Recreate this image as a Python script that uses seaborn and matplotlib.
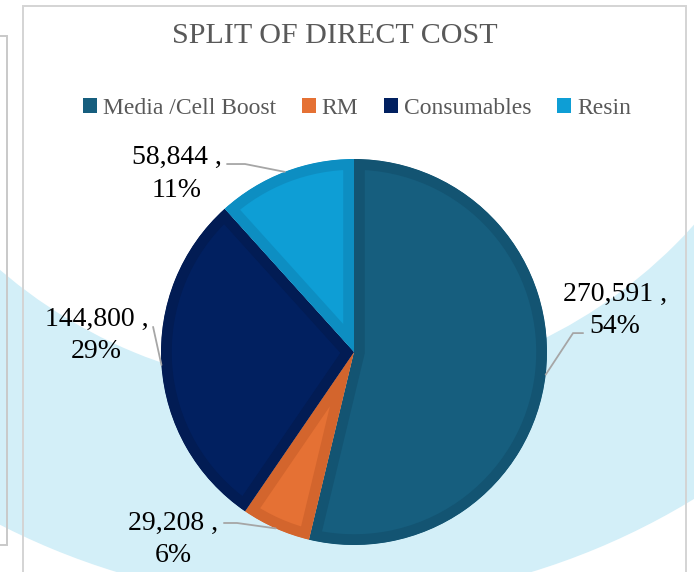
import numpy as np
import matplotlib
matplotlib.use("Agg")
import matplotlib.pyplot as plt
import matplotlib.patches as mpatches
import seaborn as sns

# ---- data -------------------------------------------------------------
categories = ["Media /Cell Boost", "RM", "Consumables", "Resin"]
costs = [270591, 29208, 144800, 58844]
pct_labels = [54, 6, 29, 11]

# ---- style --------------------------------------------------------------
sns.set_theme(style="white")
plt.rcParams["font.family"] = ["Liberation Serif", "DejaVu Serif"]

fill_colors = sns.color_palette(["#165E7E", "#E57134", "#012060", "#0E9ED5"])
edge_colors = sns.color_palette(["#135472", "#D3652D", "#021C54", "#0D8EC2"])
band_color = "#D3EFF8"
frame_color = "#D4D4D4"
text_gray = "#595959"
leader_gray = "#A6A6A6"

W, H = 694, 572
fig = plt.figure(figsize=(W / 100, H / 100), dpi=100)
fig.patch.set_facecolor("white")

# ---- background layer in pixel coordinates ------------------------------
bg = fig.add_axes([0, 0, 1, 1])
bg.set_xlim(0, W)
bg.set_ylim(H, 0)
bg.axis("off")
bg.add_patch(mpatches.Wedge((324, -107), 710, 0, 360, width=213,
                            facecolor=band_color, edgecolor="none"))
# chart frame
bg.plot([23, 23, 686, 686], [H + 5, 6, 6, H + 5], color=frame_color, lw=1.4,
        solid_joinstyle="miter")
# neighbouring box at the left edge
bg.plot([-5, 7, 7, -5], [36, 36, 545, 545], color="#C9C9C9", lw=1.4,
        solid_joinstyle="miter")

# ---- pie ----------------------------------------------------------------
cx, cy, r = 354, 352, 193
ax = fig.add_axes([(cx - r) / W, (H - cy - r) / H, 2 * r / W, 2 * r / H])
ax.patch.set_visible(False)
wedges, _ = ax.pie(costs, colors=fill_colors, startangle=90, counterclock=False,
                   wedgeprops=dict(linewidth=0))
# darker inset rim on every slice: a wide stroke clipped to the slice itself
for w, ec in zip(wedges, edge_colors):
    w.set_edgecolor(ec)
    w.set_linewidth(15.5)
    w.set_joinstyle("miter")
    w.set_clip_on(True)
    w.set_clip_path(w)
ax.set_xlim(-1, 1)
ax.set_ylim(-1, 1)
ax.set_aspect("equal")
ax.axis("off")

# label centres and leader elbows (in pie radius units)
label_pos = [(1.352, 0.215), (-0.938, -0.972), (-1.334, 0.085), (-0.920, 0.922)]
leader_via = [[(1.187, 0.098), (1.135, 0.098)],
              [(-0.674, -0.886), (-0.606, -0.886)],
              [(-1.041, 0.130)],
              [(-0.658, 0.974), (-0.565, 0.974)]]

for w, v, p, pos, via in zip(wedges, costs, pct_labels, label_pos, leader_via):
    mid = np.deg2rad((w.theta1 + w.theta2) / 2)
    end = (np.cos(mid), np.sin(mid))
    xs = [q[0] for q in via] + [end[0]]
    ys = [q[1] for q in via] + [end[1]]
    ax.plot(xs, ys, color=leader_gray, lw=1.3, clip_on=False,
            solid_joinstyle="miter")
    ax.text(pos[0], pos[1], f"{v:,} ,\n{p}%", ha="center", va="center",
            fontsize=20, color="black", linespacing=1.4, multialignment="center")

# ---- title & legend -----------------------------------------------------
fig.text(334.5 / W, (H - 43) / H, "SPLIT OF DIRECT COST", ha="center",
         va="baseline", fontsize=21.6, color=text_gray)

handles = [mpatches.Patch(facecolor=c, edgecolor="none") for c in fill_colors]
fig.legend(handles, categories, loc="center", bbox_to_anchor=(357 / W, (H - 108) / H),
           ncol=4, frameon=False, fontsize=17, labelcolor=text_gray,
           handlelength=0.6, handleheight=0.6, handletextpad=0.25,
           columnspacing=1.08, borderpad=0, borderaxespad=0)

fig.savefig("out.png", dpi=100, facecolor="white")
